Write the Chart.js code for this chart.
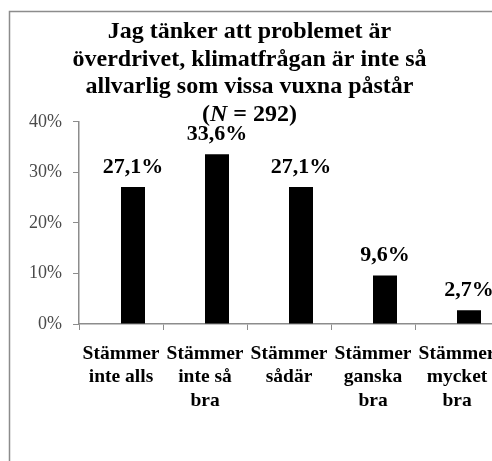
<!DOCTYPE html>
<html>
<head>
<meta charset="utf-8">
<script src="https://cdn.jsdelivr.net/npm/chart.js@4/dist/chart.umd.min.js"></script>
<style>
  html, body { margin: 0; padding: 0; overflow: hidden; background: #fff; }
  canvas { display: block; }
</style>
</head>
<body>
<canvas id="myBarChart" width="512" height="461"></canvas>
<script>
const titleLines = ["Jag tänker att problemet är", "överdrivet, klimatfrågan är inte så", "allvarlig som vissa vuxna påstår"];
const sampleSize = 292;
const categories = [
  ["Stämmer", "inte alls"],
  ["Stämmer", "inte så", "bra"],
  ["Stämmer", "sådär"],
  ["Stämmer", "ganska", "bra"],
  ["Stämmer", "mycket", "bra"]
];
const shares = [27.1, 33.6, 27.1, 9.6, 2.7];
const emptySeries = [null, null, null, null, null];
const yTicks = [0, 10, 20, 30, 40];

const serif = "'Liberation Serif', 'Times New Roman', serif";

const frame = {
  id: "frame",
  beforeDraw: function(chart) {
    const c = chart.ctx;
    c.save();
    c.fillStyle = "#fff";
    c.fillRect(0, 0, chart.width, chart.height);
    c.strokeStyle = "#8c8c8c";
    c.lineWidth = 1.5;
    c.strokeRect(9.5, 11.5, chart.width + 20, chart.height + 20);
    c.restore();
  }
};

// "(N = 292)" with italic N, under the title
const sampleLine = {
  id: "sampleLine",
  afterDraw: function(chart) {
    const c = chart.ctx;
    const parts = [
      ["(", "bold 24px " + serif],
      ["N", "italic bold 24px " + serif],
      [" = " + sampleSize + ")", "bold 24px " + serif]
    ];
    c.save();
    let total = 0;
    parts.forEach(function(p) {
      c.font = p[1];
      total += c.measureText(p[0]).width;
    });
    const box = chart.titleBlock;
    let x = (box.left + box.right) / 2 - total / 2;
    const y = chart.chartArea.top - 7;
    c.fillStyle = "#000";
    c.textBaseline = "middle";
    c.textAlign = "left";
    parts.forEach(function(p) {
      c.font = p[1];
      c.fillText(p[0], x, y);
      x += c.measureText(p[0]).width;
    });
    c.restore();
  }
};

const valueLabels = {
  id: "valueLabels",
  afterDatasetsDraw: function(chart) {
    const c = chart.ctx;
    const meta = chart.getDatasetMeta(1);
    c.save();
    c.font = "bold 22px " + serif;
    c.fillStyle = "#000";
    c.textAlign = "center";
    c.textBaseline = "middle";
    meta.data.forEach(function(bar, i) {
      const text = shares[i].toFixed(1).replace(".", ",") + "%";
      c.fillText(text, bar.x, bar.y - 20);
    });
    c.restore();
  }
};

const ctx = document.getElementById("myBarChart").getContext("2d");
const chart = new Chart(ctx, {
  type: "bar",
  data: {
    labels: categories,
    datasets: [
      {
        label: "",
        data: emptySeries,
        backgroundColor: "rgba(0,0,0,0)"
      },
      {
        label: "Andel",
        data: shares,
        backgroundColor: "#000"
      }
    ]
  },
  options: {
    responsive: false,
    animation: false,
    datasets: {
      bar: { categoryPercentage: 4 / 7, barPercentage: 1 }
    },
    layout: {
      padding: { left: 0, right: 13, top: 0, bottom: 0 }
    },
    plugins: {
      legend: { display: false },
      tooltip: { enabled: false },
      title: {
        display: true,
        text: titleLines,
        color: "#000",
        font: { family: serif, size: 24, weight: "bold", lineHeight: 1.15 },
        padding: { top: 18, bottom: 21 }
      }
    },
    scales: {
      x: {
        afterFit: function(scale) {
          scale.height = 137;
        },
        grid: {
          drawOnChartArea: false,
          drawTicks: true,
          tickLength: 6,
          color: "#8c8c8c"
        },
        border: { color: "#8c8c8c", width: 1.5 },
        ticks: {
          color: "#000",
          autoSkip: false,
          maxRotation: 0,
          minRotation: 0,
          padding: 12,
          font: { family: serif, size: 19.5, weight: "bold", lineHeight: 1.2 }
        }
      },
      y: {
        min: 0,
        max: 40,
        afterFit: function(scale) {
          scale.width = 79;
        },
        afterBuildTicks: function(scale) {
          scale.ticks = yTicks.map(function(v) { return { value: v }; });
        },
        grid: {
          drawOnChartArea: false,
          drawTicks: true,
          tickLength: 6,
          color: "#8c8c8c"
        },
        border: { color: "#8c8c8c", width: 1.5 },
        ticks: {
          color: "#4a4a4a",
          padding: 11,
          font: { family: serif, size: 18 },
          callback: function(value) {
            return value + "%";
          }
        }
      }
    }
  },
  plugins: [frame, sampleLine, valueLabels]
});
</script>
</body>
</html>
